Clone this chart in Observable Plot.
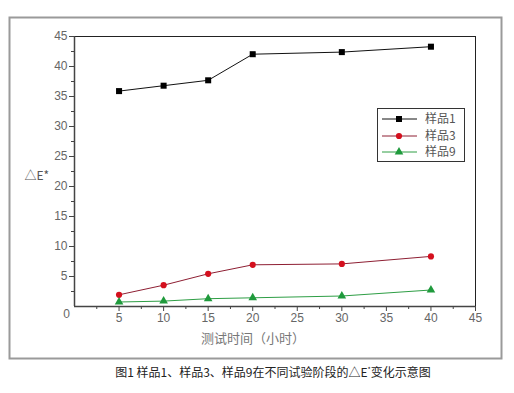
<!DOCTYPE html>
<html><head><meta charset="utf-8">
<script src="https://cdn.jsdelivr.net/npm/d3@7"></script>
<script src="https://cdn.jsdelivr.net/npm/@observablehq/plot@0.6"></script>
<style>
body{margin:0;background:#fff;font-family:"Liberation Sans","Noto Sans CJK SC",sans-serif;}
#wrap{position:relative;width:514px;}
#legend{position:absolute;left:377px;top:108px;width:86px;height:52px;border:1px solid #333;background:#fff;}
#caption{width:514px;box-sizing:border-box;padding-left:32px;text-align:center;font:12px "Noto Sans CJK SC",sans-serif;font-weight:400;color:#222;line-height:18px;margin-top:0px;}
</style>
</head><body>
<div id="wrap"></div>
<div id="caption">图1 样品1、样品3、样品9在不同试验阶段的△E<sup style="font-size:7px">*</sup>变化示意图</div>
<script>
const hours = [5, 10, 15, 20, 30, 40];
const sample1 = [35.9, 36.8, 37.7, 42.05, 42.4, 43.3];
const sample3 = [1.95, 3.55, 5.45, 6.95, 7.1, 8.35];
const sample9 = [0.75, 0.9, 1.3, 1.45, 1.75, 2.75];
const seriesNames = ["样品1", "样品3", "样品9"];
const seriesValues = [sample1, sample3, sample9];
const lineColors = ["#111111", "#8e1f33", "#2e9e45"];
const markColors = ["#000000", "#d4101e", "#1f9a3c"];
const symbols = ["square", "circle", "triangle"];
const markR = [3.4, 3.1, 3.2];
const majorTicks = [5, 10, 15, 20, 25, 30, 35, 40, 45];
const minorTicks = [2.5, 7.5, 12.5, 17.5, 22.5, 27.5, 32.5, 37.5, 42.5];

const rows = [];
seriesNames.forEach((s, i) => hours.forEach((h, j) => rows.push({series: s, x: h, y: seriesValues[i][j], i})));

const marks = [
  Plot.frame({insetLeft: -65, insetTop: -19, insetRight: -26, insetBottom: -52, stroke: "#9a9a9a", strokeWidth: 2}),
  Plot.frame({stroke: "#222", strokeWidth: 1}),
  Plot.axisY({ticks: majorTicks, tickSize: 5, tickPadding: 2, label: null, fontSize: 12, color: "#666", stroke: "#444"}),
  Plot.axisY({ticks: minorTicks, tickSize: 3, text: null, label: null, stroke: "#444"}),
  Plot.axisX({ticks: majorTicks, tickSize: 5, tickPadding: 2, label: null, fontSize: 12, color: "#666", stroke: "#444"}),
  Plot.axisX({ticks: minorTicks, tickSize: 3, text: null, label: null, stroke: "#444"}),
  Plot.ruleY([0], {stroke: "#444", strokeWidth: 1.5}),
  Plot.ruleX([0], {stroke: "#444", strokeWidth: 1.5}),
  Plot.text([0], {x: d => d, y: d => d, text: d => String(d), dx: -8, dy: 8, fontSize: 12, fill: "#666"}),
  Plot.text(["测试时间（小时）"], {frameAnchor: "bottom", dy: 36, dx: -22, fontSize: 13, fill: "#777", fontFamily: "Noto Sans CJK SC"}),
  Plot.text(["△E*"], {frameAnchor: "left", dx: -50, dy: 5, fontSize: 12, fill: "#555", fontFamily: "Noto Sans CJK SC"})
];
seriesNames.forEach((s, i) => {
  const d = rows.filter(r => r.i === i);
  marks.push(Plot.line(d, {x: "x", y: "y", stroke: lineColors[i], strokeWidth: 1}));
  marks.push(Plot.dot(d, {x: "x", y: "y", symbol: symbols[i], r: markR[i], fill: markColors[i], stroke: "none"}));
});

const chart = Plot.plot({
  width: 514, height: 360,
  marginLeft: 74, marginRight: 39, marginTop: 36, marginBottom: 54,
  x: {domain: [0, 45]},
  y: {domain: [0, 45]},
  style: {fontFamily: "Liberation Sans, sans-serif", background: "#fff", overflow: "visible"},
  marks
});
const wrap = document.getElementById("wrap");
wrap.appendChild(chart);

// legend
const lg = document.createElement("div");
lg.id = "legend";
const ns = "http://www.w3.org/2000/svg";
const svg = document.createElementNS(ns, "svg");
svg.setAttribute("width", 86); svg.setAttribute("height", 52);
const ys = [10, 27, 43];
seriesNames.forEach((s, i) => {
  const ln = document.createElementNS(ns, "line");
  ln.setAttribute("x1", 4); ln.setAttribute("x2", 39);
  ln.setAttribute("y1", ys[i]); ln.setAttribute("y2", ys[i]);
  ln.setAttribute("stroke", lineColors[i]);
  svg.appendChild(ln);
  const p = document.createElementNS(ns, "path");
  const sym = {square: d3.symbolSquare, circle: d3.symbolCircle, triangle: d3.symbolTriangle}[symbols[i]];
  p.setAttribute("d", d3.symbol(sym, Math.PI * markR[i] * markR[i])());
  p.setAttribute("transform", `translate(21,${ys[i]})`);
  p.setAttribute("fill", markColors[i]);
  svg.appendChild(p);
  const t = document.createElementNS(ns, "text");
  t.setAttribute("x", 47); t.setAttribute("y", ys[i]); t.setAttribute("dy", "0.35em");
  t.setAttribute("font-size", 12); t.setAttribute("fill", "#555");
  t.setAttribute("font-family", "Noto Sans CJK SC, sans-serif");
  t.textContent = s;
  svg.appendChild(t);
});
lg.appendChild(svg);
wrap.appendChild(lg);
</script>
</body></html>
